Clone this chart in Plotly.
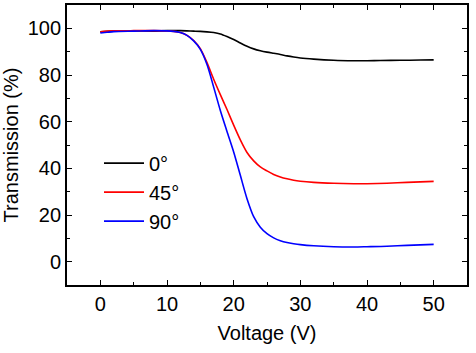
import plotly.graph_objects as go

voltage_0 = [0, 2, 5, 8, 10, 12, 14, 15, 16, 17, 18, 19, 20, 21, 22, 23, 24, 25, 26, 27, 28, 29, 30, 32, 35, 38, 40, 42, 45, 48, 50]
trans_0 = [98.5, 98.8, 98.9, 98.8, 99.0, 99.0, 98.8, 98.7, 98.5, 98.2, 97.6, 96.5, 95.2, 93.7, 92.3, 91.2, 90.4, 89.8, 89.3, 88.8, 88.2, 87.7, 87.3, 86.8, 86.3, 86.1, 86.1, 86.2, 86.3, 86.4, 86.5]

voltage_45 = [0, 2, 5, 8, 10, 11, 12, 13, 14, 15, 16, 17, 18, 19, 20, 21, 22, 23, 24, 25, 26, 27, 28, 29, 30, 32, 35, 38, 40, 43, 46, 50]
trans_45 = [98.5, 98.9, 99.0, 99.0, 98.9, 98.7, 98.2, 97.0, 94.8, 91.3, 85.3, 78.2, 71.6, 65.2, 58.5, 52.2, 46.8, 43.2, 40.6, 38.9, 37.4, 36.3, 35.5, 34.9, 34.5, 34.0, 33.6, 33.4, 33.4, 33.6, 34.0, 34.4]

voltage_90 = [0, 1, 2, 5, 8, 10, 11, 12, 13, 14, 15, 16, 17, 18, 19, 20, 21, 22, 23, 24, 25, 26, 27, 28, 29, 30, 32, 35, 38, 40, 43, 46, 50]
trans_90 = [98.0, 98.3, 98.6, 98.8, 99.0, 98.9, 98.7, 98.2, 97.0, 94.6, 91.0, 84.5, 74.8, 64.8, 55.8, 47.0, 37.0, 27.0, 19.3, 14.8, 12.0, 10.2, 9.0, 8.2, 7.7, 7.3, 6.8, 6.4, 6.3, 6.4, 6.6, 7.0, 7.4]

series_names = ["0°", "45°", "90°"]
series_colors = ["#000000", "#ff0000", "#0000ff"]

x_ticks = [0, 10, 20, 30, 40, 50]
y_ticks = [0, 20, 40, 60, 80, 100]

FONT = "Liberation Sans, Arial, sans-serif"
FS = 20

fig = go.Figure()
for xs, ys, name, color in zip([voltage_0, voltage_45, voltage_90],
                               [trans_0, trans_45, trans_90],
                               series_names, series_colors):
    fig.add_trace(go.Scatter(x=xs, y=ys, mode="lines", name=name,
                             line=dict(color=color, width=1.6, shape="spline", smoothing=0.8)))

axis_common = dict(
    showline=True, linecolor="black", linewidth=1.8, mirror="allticks",
    ticks="inside", ticklen=5, tickwidth=1.3, tickcolor="black",
    showgrid=False, zeroline=False, automargin=False,
    tickfont=dict(family=FONT, size=FS, color="black"),
)

fig.update_xaxes(range=[-5, 55], tickvals=x_ticks,
                 minor=dict(ticks="inside", ticklen=3, tickwidth=1.2, tickcolor="black", dtick=5, showgrid=False),
                 title=dict(text="Voltage (V)", font=dict(family=FONT, size=FS, color="black"), standoff=12),
                 **axis_common)
fig.update_yaxes(range=[-10, 110], tickvals=y_ticks,
                 minor=dict(ticks="inside", ticklen=3, tickwidth=1.2, tickcolor="black", dtick=10, showgrid=False),
                 title=dict(text="Transmission (%)", font=dict(family=FONT, size=FS, color="black"), standoff=8),
                 **axis_common)

fig.update_layout(
    width=476, height=353,
    margin=dict(l=67, r=9, t=5, b=68),
    paper_bgcolor="white", plot_bgcolor="white",
    font=dict(family=FONT, size=FS, color="black"),
    legend=dict(x=0.08, y=0.505, xanchor="left", yanchor="top",
                bgcolor="rgba(0,0,0,0)", font=dict(family=FONT, size=FS, color="black"),
                itemwidth=40, tracegroupgap=0),
    showlegend=True,
)

fig.write_html("out.html", config={"displayModeBar": False},
               post_script="document.body.style.margin='0';")
